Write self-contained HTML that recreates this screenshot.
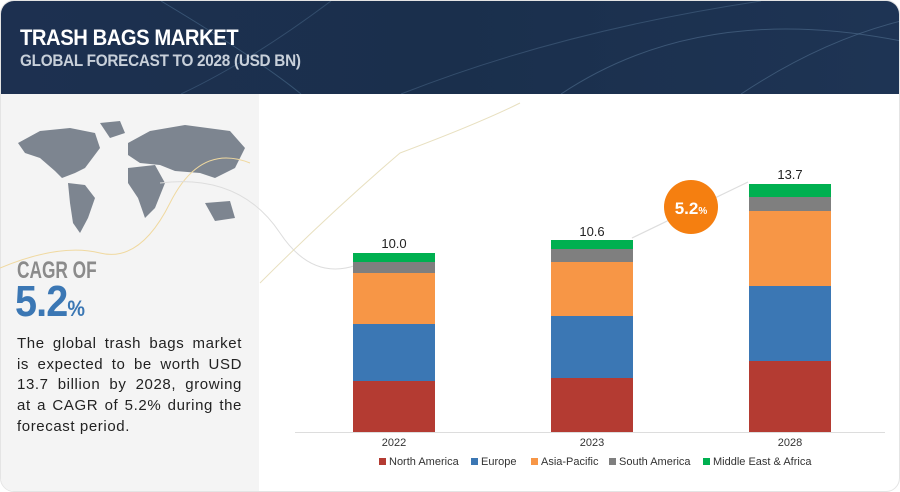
<!DOCTYPE html>
<html><head><meta charset="utf-8"><style>
body{margin:0;width:900px;height:492px;background:#fff;position:relative;overflow:hidden;font-family:"Liberation Sans",sans-serif}
.a{position:absolute}
.leg{position:absolute;top:456px;font-size:11px;color:#333;white-space:nowrap}
.leg i{display:inline-block;width:7px;height:7px;margin-right:3px;vertical-align:0}
.yr{position:absolute;top:437px;font-size:11px;color:#333;width:82px;text-align:center}
.val{position:absolute;font-size:13px;color:#222;width:82px;text-align:center}
</style></head><body>
<div class="a" style="left:0;top:0;width:900px;height:492px;border-radius:14px;overflow:hidden;border:1px solid #e4e4e4;box-sizing:border-box">
<div class="a" style="left:0;top:0;width:900px;height:93px;background:linear-gradient(90deg,#1d3050,#1a2f4c 50%,#1e3454)"></div>
<svg class="a" style="left:0;top:0" width="900" height="93">
<path d="M160 0 Q260 60 300 93" stroke="#4a6a8a" stroke-width="1" fill="none" opacity=".6"/>
<path d="M330 0 Q250 60 180 93" stroke="#4a6a8a" stroke-width="1" fill="none" opacity=".5"/>
<path d="M560 93 Q700 0 900 40" stroke="#5a7a9a" stroke-width="1" fill="none" opacity=".5"/>
<path d="M400 93 Q560 30 760 0" stroke="#5a7a9a" stroke-width="1" fill="none" opacity=".4"/>
<path d="M740 93 Q820 40 900 20" stroke="#5a7a9a" stroke-width="1" fill="none" opacity=".5"/>
</svg>
<div class="a" style="left:0;top:93px;width:258px;height:399px;background:#f4f4f4"></div>
</div>
<div class="a" style="left:20px;top:25px;font-size:22px;font-weight:bold;color:#fff;letter-spacing:-0.5px;transform:scaleX(.92);transform-origin:left">TRASH BAGS MARKET</div>
<div class="a" style="left:20px;top:51px;font-size:17px;font-weight:bold;color:#c8d0da;letter-spacing:-0.3px;transform:scaleX(.9);transform-origin:left">GLOBAL FORECAST TO 2028 (USD BN)</div>
<svg class="a" style="left:0;top:93px" width="900" height="399">
<g fill="#7d8590">
<path d="M18 50 L40 38 L70 35 L95 40 L100 55 L85 75 L75 80 L62 85 L55 78 L40 65 L25 60Z"/>
<path d="M68 90 L85 92 L95 105 L88 125 L80 140 L73 130 L70 110Z"/>
<path d="M100 30 L120 28 L125 40 L110 45Z"/>
<path d="M128 50 L150 38 L185 32 L230 38 L245 55 L235 75 L215 85 L200 80 L175 78 L160 72 L140 70 L128 62Z"/>
<path d="M128 75 L155 72 L165 90 L155 115 L145 125 L138 105 L128 90Z"/>
<path d="M205 110 L230 108 L235 125 L215 128Z"/>
</g>
<path d="M0 175 Q60 150 100 160 T170 110 T250 70" stroke="#f0d9a0" fill="none"/>
<path d="M160 90 Q240 80 280 140 T380 160" stroke="#ddd" fill="none"/>
<path d="M260 190 Q330 120 400 60 Q480 30 520 10" stroke="#e8e0c0" fill="none"/>
</svg>
<div class="a" style="left:17px;top:257px;font-size:24px;font-weight:bold;color:#8b8b8b;transform:scaleX(.72);transform-origin:left">CAGR OF</div>
<div class="a" style="left:15px;top:277px;font-size:44px;color:#3b77b4;font-weight:bold;letter-spacing:-1px;transform:scaleX(.9);transform-origin:left">5.2<span style="font-size:22px">%</span></div>
<div class="a" style="left:17px;top:334px;width:225px;font-size:15px;line-height:20.7px;color:#222;text-align:justify;letter-spacing:0.6px">The global trash bags market is expected to be worth USD 13.7 billion by 2028, growing at a CAGR of 5.2% during the forecast period.</div>
<svg class="a" style="left:0;top:0" width="900" height="492">
<line x1="295" y1="432.5" x2="885" y2="432.5" stroke="#ddd"/>
<g>
<rect x="353" y="381" width="82" height="51" fill="#b43b32"/>
<rect x="353" y="324" width="82" height="57" fill="#3b77b4"/>
<rect x="353" y="273" width="82" height="51" fill="#f79646"/>
<rect x="353" y="262" width="82" height="11" fill="#7f7f7f"/>
<rect x="353" y="253" width="82" height="9" fill="#00b050"/>
<rect x="551" y="378" width="82" height="54" fill="#b43b32"/>
<rect x="551" y="316" width="82" height="62" fill="#3b77b4"/>
<rect x="551" y="262" width="82" height="54" fill="#f79646"/>
<rect x="551" y="249" width="82" height="13" fill="#7f7f7f"/>
<rect x="551" y="240" width="82" height="9" fill="#00b050"/>
<rect x="749" y="361" width="82" height="71" fill="#b43b32"/>
<rect x="749" y="286" width="82" height="75" fill="#3b77b4"/>
<rect x="749" y="211" width="82" height="75" fill="#f79646"/>
<rect x="749" y="197" width="82" height="14" fill="#7f7f7f"/>
<rect x="749" y="184" width="82" height="13" fill="#00b050"/>
</g>
<line x1="632" y1="238" x2="748" y2="182" stroke="#ddd" stroke-width="1.2"/>
<circle cx="691" cy="207" r="27" fill="#f57f10"/>
<text x="691" y="214" text-anchor="middle" fill="#fff" font-family="Liberation Sans" font-weight="bold" font-size="17">5.2<tspan font-size="10">%</tspan></text>
</svg>
<div class="val" style="left:353px;top:236px">10.0</div>
<div class="val" style="left:551px;top:224px">10.6</div>
<div class="val" style="left:749px;top:167px">13.7</div>
<div class="yr" style="left:353px">2022</div>
<div class="yr" style="left:551px">2023</div>
<div class="yr" style="left:749px">2028</div>
<div class="leg" style="left:379px"><i style="background:#b43b32"></i>North America</div>
<div class="leg" style="left:471px"><i style="background:#3b77b4"></i>Europe</div>
<div class="leg" style="left:531px"><i style="background:#f79646"></i>Asia-Pacific</div>
<div class="leg" style="left:609px"><i style="background:#7f7f7f"></i>South America</div>
<div class="leg" style="left:703px"><i style="background:#00b050"></i>Middle East &amp; Africa</div>
</body></html>
